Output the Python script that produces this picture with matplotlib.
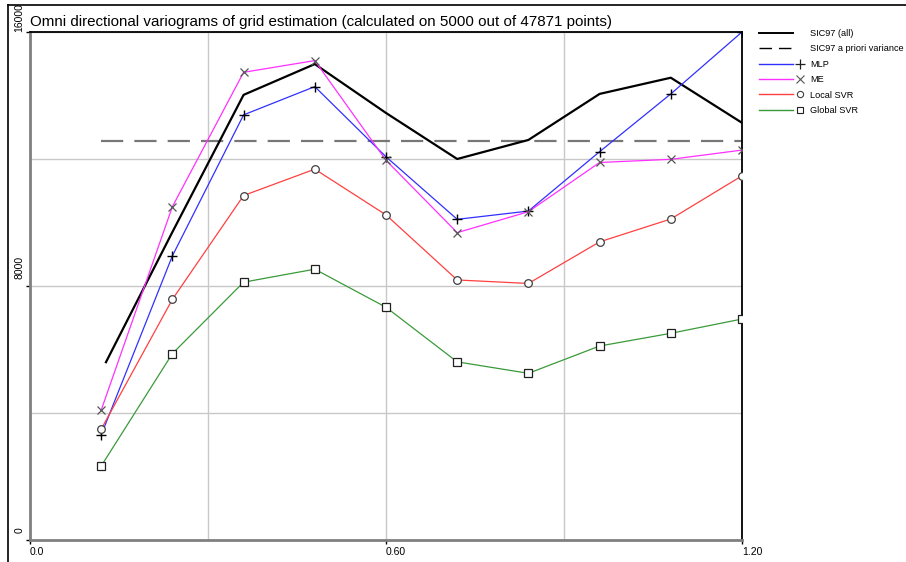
import matplotlib
matplotlib.use("Agg")
import matplotlib.pyplot as plt
import matplotlib.transforms as mtransforms
from matplotlib.lines import Line2D
from matplotlib.legend_handler import HandlerBase

# ---------------- data ----------------
lags = [0.12, 0.24, 0.36, 0.48, 0.60, 0.72, 0.84, 0.96, 1.08, 1.20]
sic_lags = [0.128, 0.24, 0.36, 0.48, 0.60, 0.72, 0.84, 0.96, 1.08, 1.20]
sic_all = [5600, 9700, 14020, 14990, 13450, 12000, 12600, 14050, 14560, 13140]
apriori_lags = [0.12, 1.20]
apriori_var = [12580, 12580]
mlp = [3310, 8950, 13390, 14280, 12070, 10100, 10360, 12230, 14050, 16000]
me = [4090, 10500, 14730, 15100, 11960, 9680, 10340, 11890, 11990, 12280]
local_svr = [3490, 7580, 10850, 11680, 10240, 8190, 8080, 9390, 10110, 11470]
global_svr = [2330, 5870, 8120, 8530, 7330, 5610, 5250, 6110, 6510, 6960]

series_labels = ["SIC97 (all)", "SIC97 a priori variance", "MLP", "ME",
                 "Local SVR", "Global SVR"]
title = "Omni directional variograms of grid estimation (calculated on 5000 out of 47871 points)"
x_major = [0.0, 0.6, 1.2]
x_major_labels = ["0.0", "0.60", "1.20"]
x_minor = [0.3, 0.9]
y_major = [0, 8000, 16000]
y_major_labels = ["0", "8000", "16000"]
y_minor = [4000, 12000]

# ---------------- figure ----------------
W, H = 906, 562
fig = plt.figure(figsize=(W / 100, H / 100), dpi=100)
plt.rcParams['font.family'] = ['Liberation Sans', 'DejaVu Sans']
fam = ['Liberation Sans', 'DejaVu Sans']

ax_l, ax_r, ax_t, ax_b = 30, 742, 32, 540
ax = fig.add_axes([ax_l / W, 1 - ax_b / H, (ax_r - ax_l) / W, (ax_b - ax_t) / H])
ax.set_xlim(0, 1.2)
ax.set_ylim(0, 16000)

# grid
ax.set_xticks(x_major)
ax.set_xticks(x_minor, minor=True)
ax.set_yticks(y_major)
ax.set_yticks(y_minor, minor=True)
ax.grid(True, which='both', color='#c8c8c8', lw=1.0, zorder=0)
ax.set_axisbelow(True)
ax.set_xticklabels(x_major_labels, fontsize=7.5, family=fam, ha='left')
ax.set_yticklabels(y_major_labels, fontsize=7.5, family=fam, rotation=90,
                   va='bottom')
ax.tick_params(which='major', length=3, width=1, color='black', pad=2)
ax.tick_params(which='minor', length=0)
ax.tick_params(axis='y', pad=1)
shift = mtransforms.ScaledTranslation(0, 7 / 100, fig.dpi_scale_trans)
for lab in ax.get_yticklabels()[:-1]:
    lab.set_transform(lab.get_transform() + shift)

for s in ['left', 'bottom']:
    ax.spines[s].set_color('#808080')
    ax.spines[s].set_linewidth(2)
for s in ['top', 'right']:
    ax.spines[s].set_color('black')
    ax.spines[s].set_linewidth(1.3)

ax.plot(apriori_lags, apriori_var, color='#777777', lw=1.6,
        dashes=(10, 5), zorder=2)
ax.plot(sic_lags, sic_all, color='black', lw=1.6, zorder=3)
ax.plot(lags, mlp, color='#3030ff', lw=0.9, marker='+', markersize=7,
        mec='black', mew=1.0, zorder=4)
ax.plot(lags, me, color='#ff30ff', lw=0.9, marker='x', markersize=6,
        mec='#555555', mew=0.9, zorder=4)
ax.plot(lags, local_svr, color='#ff4040', lw=0.9, marker='o', markersize=5.5,
        mec='#404040', mfc='white', mew=0.9, zorder=4)
ax.plot(lags, global_svr, color='#3a9a3a', lw=0.9, marker='s', markersize=5.5,
        mec='#202020', mfc='white', mew=0.9, zorder=4)

# title
fig.text(ax_l / W, 1 - 26 / H, title, fontsize=10.9, family=fam,
         ha='left', va='baseline')

# outer frame lines
fig.add_artist(Line2D([8 / W, 8 / W], [0, 1 - 5 / H], color='black', lw=1.2,
                      transform=fig.transFigure))
fig.add_artist(Line2D([8 / W, 1], [1 - 5 / H, 1 - 5 / H], color='black', lw=1.2,
                      transform=fig.transFigure))


# legend: line then marker
class LineThenMarker(HandlerBase):
    def create_artists(self, legend, orig_handle, xdescent, ydescent, width,
                       height, fontsize, trans):
        y = height / 2 - ydescent
        x0 = -xdescent
        ln = Line2D([x0, x0 + width * 0.74], [y, y],
                    color=orig_handle.get_color(),
                    lw=orig_handle.get_linewidth(),
                    linestyle=orig_handle.get_linestyle())
        if orig_handle.get_linestyle() == '--':
            ln.set_dashes((9, 5))
        ln.set_transform(trans)
        arts = [ln]
        if orig_handle.get_marker() not in (None, 'None', ''):
            mk = Line2D([x0 + width * 0.9], [y], marker=orig_handle.get_marker(),
                        markersize=orig_handle.get_markersize(),
                        mec=orig_handle.get_markeredgecolor(),
                        mfc=orig_handle.get_markerfacecolor(),
                        mew=orig_handle.get_markeredgewidth(), linestyle='None')
            mk.set_transform(trans)
            arts.append(mk)
        return arts


handles = [
    Line2D([], [], color='black', lw=1.4),
    Line2D([], [], color='black', lw=1.0, linestyle='--'),
    Line2D([], [], color='#3030ff', lw=1.0, marker='+', markersize=7, mec='#202020', mfc='none', mew=0.9),
    Line2D([], [], color='#ff30ff', lw=1.0, marker='x', markersize=6, mec='#555555', mfc='none', mew=0.8),
    Line2D([], [], color='#ff4040', lw=1.0, marker='o', markersize=4.5, mec='#404040', mfc='white', mew=0.8),
    Line2D([], [], color='#3a9a3a', lw=1.0, marker='s', markersize=5, mec='#202020', mfc='white', mew=0.8),
]
leg = fig.legend(handles, series_labels, loc='upper left',
                 bbox_to_anchor=(759 / W, 1 - 29 / H), frameon=False,
                 fontsize=6.6, handlelength=5.0, handletextpad=0.6,
                 labelspacing=0.7, borderpad=0, borderaxespad=0,
                 handler_map={h: LineThenMarker() for h in handles})

fig.savefig("out.png", dpi=100)
